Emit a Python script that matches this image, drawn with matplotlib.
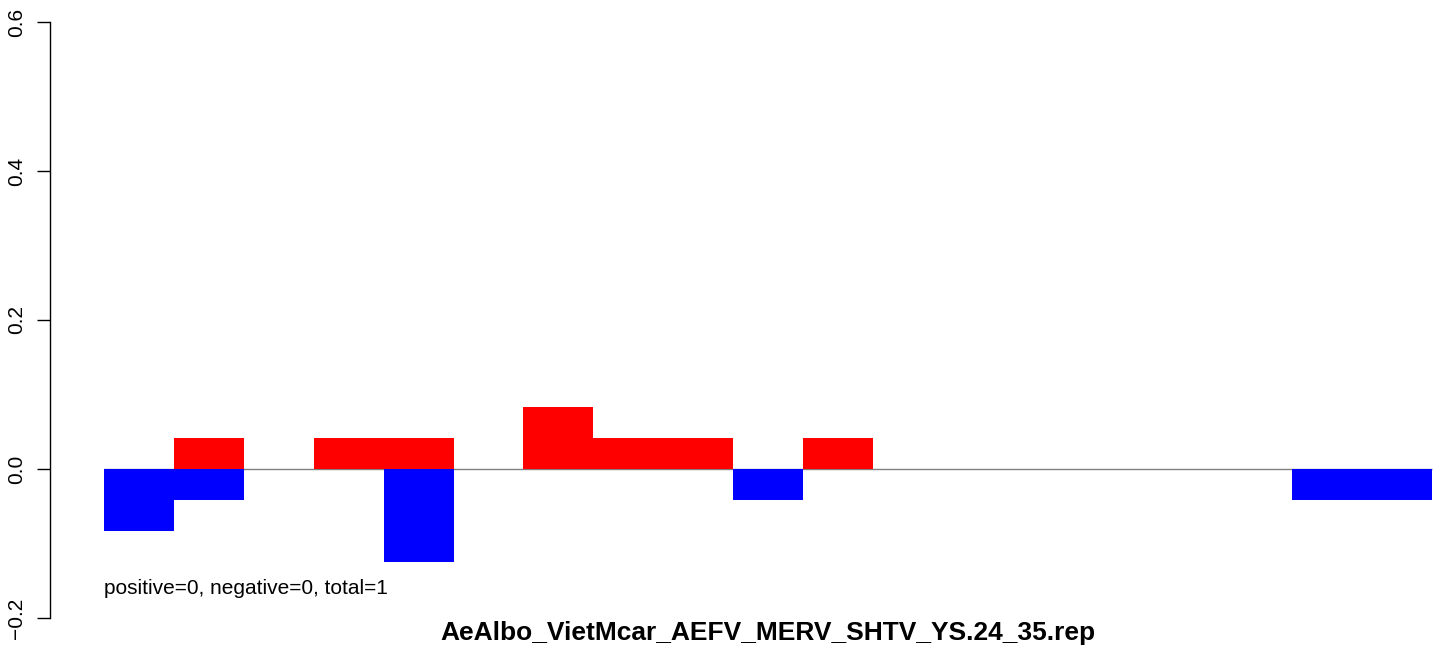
import matplotlib
matplotlib.use("Agg")
import matplotlib.pyplot as plt
import numpy as np

plt.rcParams['font.family'] = ['Liberation Sans', 'DejaVu Sans']

positive = [0, 1, 0, 1, 1, 0, 2, 1, 1, 0, 1, 0, 0, 0, 0, 0, 0, 0, 0]
negative = [-2, -1, 0, 0, -3, 0, 0, 0, 0, -1, 0, 0, 0, 0, 0, 0, 0, -1, -1]
denom = 24.0
yticks = [-0.2, 0.0, 0.2, 0.4, 0.6]
ytick_labels = ["\u22120.2", "0.0", "0.2", "0.4", "0.6"]
title = "AeAlbo_VietMcar_AEFV_MERV_SHTV_YS.24_35.rep"
note = "positive=0, negative=0, total=1"

pos = np.array(positive) / denom
neg = np.array(negative) / denom
x = np.arange(len(pos))

W, H = 1444, 648
fig = plt.figure(figsize=(W / 100, H / 100), dpi=100)
left_px, right_px = 50, 1434
top_px, bot_px = 22, 618
ax = fig.add_axes([left_px / W, (H - bot_px) / H, (right_px - left_px) / W, (bot_px - top_px) / H])

ax.hlines(0, 0, len(x), color='#808080', lw=1.0, zorder=1)
ax.bar(x, pos, width=1.0, align='edge', color='#ff0000', linewidth=0, zorder=2)
ax.bar(x, neg, width=1.0, align='edge', color='#0000ff', linewidth=0, zorder=2)

bar_w_px = 69.9
ax.set_xlim(-(104 - left_px) / bar_w_px, -(104 - left_px) / bar_w_px + (right_px - left_px) / bar_w_px)
ax.set_ylim(-0.2, 0.6)

for s in ['top', 'right', 'bottom']:
    ax.spines[s].set_visible(False)
ax.spines['left'].set_linewidth(1.0)
ax.spines['left'].set_bounds(-0.2, 0.6)
ax.set_xticks([])
ax.set_yticks(yticks)
ax.set_yticklabels(ytick_labels, rotation=90, va='center', fontsize=15)
ax.tick_params(axis='y', length=9.5, width=1.0, pad=7.5)

ax.text(104 / W, (H - 588) / H, note, transform=fig.transFigure, fontsize=15, va='center', ha='left')
fig.text(768 / W, (H - 633) / H, title, fontsize=19, fontweight='bold', ha='center', va='center')

fig.savefig("out.png", dpi=100)
